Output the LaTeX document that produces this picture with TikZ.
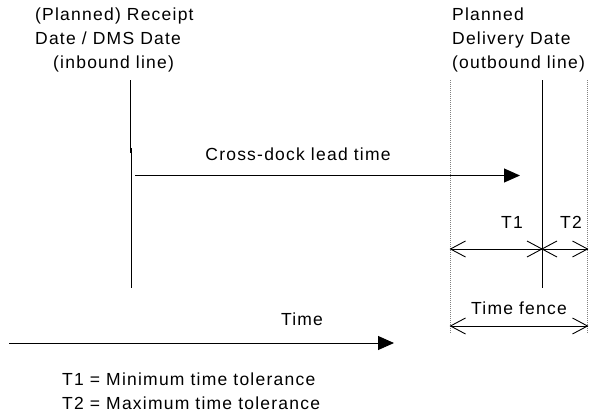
\documentclass[tikz,border=0pt]{standalone}
\usepackage{fontspec}
\setmainfont{Liberation Sans}[LetterSpace=7]
\usetikzlibrary{arrows.meta,calc}
\begin{document}
\begin{tikzpicture}[x=1pt,y=-1pt,
  txt/.style={inner sep=0pt, font=\fontsize{17.5}{24}\selectfont},
  hline/.style={line width=1pt, black},
  arm/.style={line width=0.9pt, black},
  fillarrow/.style={hline, -{Triangle[length=16pt,width=14pt]}},
  fence/.style={line width=0.8pt, gray, dash pattern=on 1pt off 1pt}]
\useasboundingbox (0,0) rectangle (590,413);
% headings
\node[txt, anchor=north west, align=left] (hin) at (35,8) {(Planned) Receipt\\Date / DMS Date\\\hspace*{18pt}(inbound line)};
\node[txt, anchor=north west, align=left] (hout) at (452,8) {Planned\\Delivery Date\\(outbound line)};
% vertical lines
\coordinate (inT) at (130,80);
\coordinate (inJ1) at (130,153);
\coordinate (inJ2) at (131.5,148);
\coordinate (inB) at (131.5,288);
\draw[hline] (inT) -- (inJ1);
\draw[hline] (inJ2) -- (inB);
\coordinate (outT) at (542,80);
\coordinate (outB) at (542,288);
\draw[hline] (outT) -- (outB);
\coordinate (fLT) at (450.5,80);
\coordinate (fLB) at (450.5,333);
\coordinate (fRT) at (587.5,80);
\coordinate (fRB) at (587.5,333);
\draw[fence] (fLT) -- (fLB);
\draw[fence] (fRT) -- (fRB);
% cross-dock arrow
\coordinate (cdS) at (135,175.5);
\coordinate (cdE) at (520,175.5);
\draw[fillarrow] (cdS) -- (cdE);
\node[txt] (cdl) at (298,154) {Cross-dock lead time};
% T1 T2
\coordinate (tL) at (450.5,249);
\coordinate (tM) at (542,249);
\coordinate (tR) at (587.5,249);
\draw[hline] (tL) -- (tM);
\draw[hline] (tM) -- (tR);
\draw[arm] ($(tL)+(15,-8)$) -- (tL) -- ($(tL)+(15,8)$);
\draw[arm] ($(tM)+(-15,-8)$) -- (tM) -- ($(tM)+(-15,8)$);
\draw[arm] ($(tM)+(15,-8)$) -- (tM) -- ($(tM)+(15,8)$);
\draw[arm] ($(tR)+(-15,-8)$) -- (tR) -- ($(tR)+(-15,8)$);
\node[txt] (t1) at (512,222) {T1};
\node[txt] (t2) at (571,222) {T2};
% time fence
\coordinate (fenL) at (450.5,326);
\coordinate (fenR) at (587.5,326);
\draw[hline] (fenL) -- (fenR);
\draw[arm] ($(fenL)+(15,-8)$) -- (fenL) -- ($(fenL)+(15,8)$);
\draw[arm] ($(fenR)+(-15,-8)$) -- (fenR) -- ($(fenR)+(-15,8)$);
\node[txt] (fenl) at (519,308) {Time fence};
% time axis
\coordinate (tS) at (9,343);
\coordinate (tE) at (394,343);
\draw[fillarrow] (tS) -- (tE);
\node[txt] (timel) at (302,319) {Time};
% legend
\node[txt, anchor=west, align=left] (leg) at (62,391) {T1 = Minimum time tolerance\\T2 = Maximum time tolerance};
\end{tikzpicture}
\end{document}
